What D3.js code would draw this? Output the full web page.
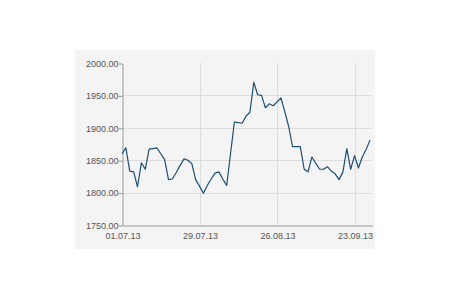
<!DOCTYPE html>
<html lang="en">
<head>
<meta charset="UTF-8">
<script src="https://d3js.org/d3.v7.min.js"></script>
<style>
  body { margin: 0; background: #fff; }
  text { font-family: "Liberation Sans", Arial, sans-serif; font-size: 9px; fill: #555; }
</style>
</head>
<body>
<script>
// closing values, one per trading day (01.07.13 .. end of Sept)
const values = [
  1860, 1869, 1833, 1832, 1809, 1846, 1836, 1867, 1868, 1869,
  1860, 1851, 1820, 1821, 1831, 1842, 1852, 1850, 1845, 1820,
  1810, 1799, 1811, 1821, 1830, 1832, 1821, 1811, 1860, 1909,
  1908, 1907, 1918, 1924, 1970, 1951, 1950, 1931, 1937, 1934,
  1940, 1946, 1925, 1902, 1871, 1871, 1871, 1836, 1832, 1855,
  1845, 1836, 1836, 1840, 1833, 1829, 1820, 1832, 1868, 1836,
  1857, 1838, 1855, 1867, 1881
];
const xTickIndex = [0, 20, 40, 60];
const xTickLabels = ["01.07.13", "29.07.13", "26.08.13", "23.09.13"];
const yTicks = [1750, 1800, 1850, 1900, 1950, 2000];

const W = 450, H = 300;
const plot = {left: 122, right: 372, top: 63, bottom: 225};

const svg = d3.select('body').append('svg')
    .attr('width', W)
    .attr('height', H);

// grey panel
svg.append('rect')
    .attr('x', 75).attr('y', 50)
    .attr('width', 300).attr('height', 199)
    .attr('fill', '#f4f4f4');

const x = d3.scaleLinear().domain([0, 64.5]).range([plot.left, plot.right]);
const y = d3.scaleLinear().domain([1750, 2000]).range([plot.bottom, plot.top]);

// horizontal grid
svg.append('g')
    .selectAll('line')
    .data(yTicks.filter(d => d > 1750 && d < 2000))
    .enter().append('line')
    .attr('x1', plot.left).attr('x2', plot.right)
    .attr('y1', d => Math.round(y(d)) + 0.5)
    .attr('y2', d => Math.round(y(d)) + 0.5)
    .attr('stroke', '#dddddd');

// vertical grid
svg.append('g')
    .selectAll('line')
    .data(xTickIndex.slice(1))
    .enter().append('line')
    .attr('x1', d => Math.round(x(d)) + 0.5)
    .attr('x2', d => Math.round(x(d)) + 0.5)
    .attr('y1', plot.top).attr('y2', plot.bottom)
    .attr('stroke', '#dddddd');

// y axis
const yAxis = d3.axisLeft(y)
    .tickValues(yTicks)
    .tickSize(4)
    .tickSizeOuter(0)
    .tickFormat(d3.format('.2f'));
const gy = svg.append('g')
    .attr('transform', `translate(${plot.left + 0.5},0.5)`)
    .call(yAxis);
gy.select('.domain').attr('stroke', '#999');
gy.selectAll('.tick line').attr('stroke', '#999');
gy.selectAll('.tick text')
    .attr('x', -4)
    .style('font-family', '"Liberation Sans", Arial, sans-serif')
    .style('font-size', '9px')
    .attr('fill', '#555');

// x axis
const xAxis = d3.axisBottom(x)
    .tickValues(xTickIndex)
    .tickSize(0)
    .tickSizeOuter(0)
    .tickPadding(7)
    .tickFormat((d, i) => xTickLabels[i]);
const gx = svg.append('g')
    .attr('transform', `translate(0.5,${plot.bottom + 0.5})`)
    .call(xAxis);
gx.select('.domain').attr('stroke', '#999');
gx.selectAll('.tick text')
    .style('font-family', '"Liberation Sans", Arial, sans-serif')
    .style('font-size', '9px')
    .attr('fill', '#555');

// price line
const line = d3.line()
    .x((d, i) => x(i))
    .y(d => y(d));

svg.append('path')
    .datum(values)
    .attr('d', line)
    .attr('fill', 'none')
    .attr('stroke', '#1d4f73')
    .attr('stroke-width', 1.2)
    .attr('stroke-linejoin', 'round');
</script>
</body>
</html>
